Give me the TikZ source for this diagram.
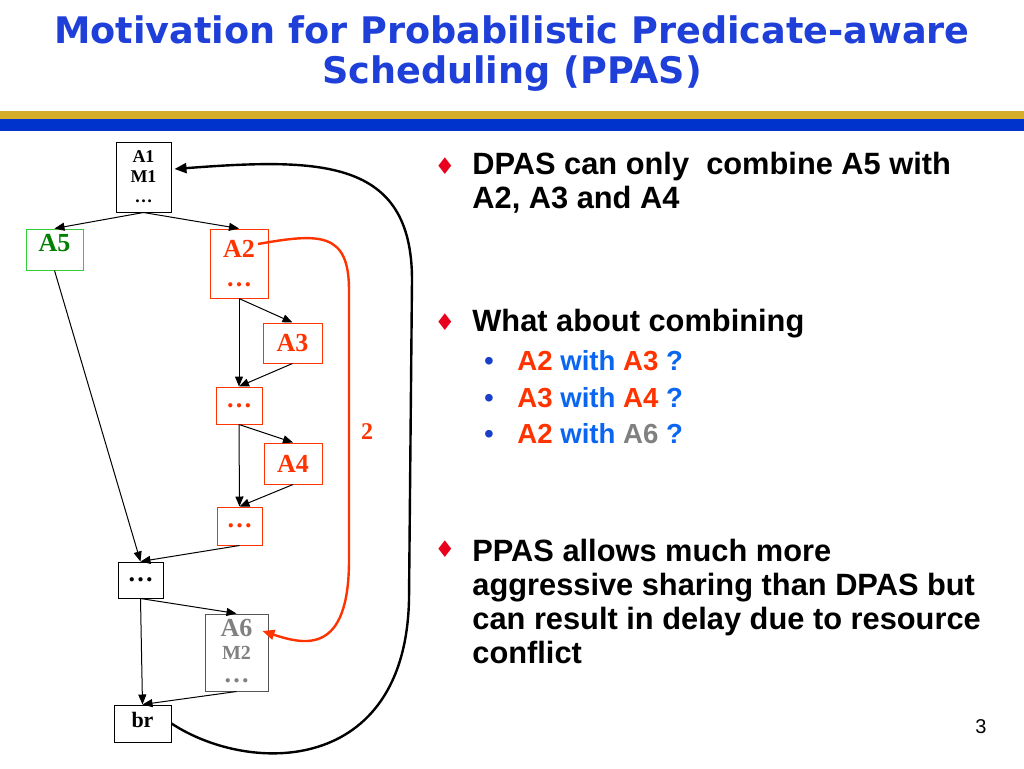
\documentclass[tikz,border=0pt]{standalone}
\usepackage{fontspec}
\setmainfont{Liberation Serif}
\newfontfamily\arial{Liberation Sans}
\newfontfamily\titlefont{DejaVu Sans}
\newfontfamily\symfont{DejaVu Sans}
\usepackage{xcolor}
\usepackage{tikz}
\usetikzlibrary{arrows.meta, positioning, calc}

\definecolor{titleblue}{HTML}{1E3FD8}
\definecolor{bargold}{HTML}{D4AE2A}
\definecolor{barblue}{HTML}{0033CC}
\definecolor{ppred}{HTML}{FF3300}
\definecolor{ppgreen}{HTML}{008000}
\definecolor{boxgreen}{HTML}{33CC33}
\definecolor{withblue}{HTML}{0A66F0}
\definecolor{dotblue}{HTML}{1A3FC8}
\definecolor{diamred}{HTML}{E8001C}
\definecolor{a6gray}{HTML}{808080}
\definecolor{a6edge}{HTML}{555555}

\begin{document}
\begin{tikzpicture}[
    x=0.5pt, y=-0.5pt,
    box/.style={draw, line width=0.5pt, inner sep=0pt, align=center, font=\bfseries\fontsize{13}{17.5}\selectfont},
    redbox/.style={box, draw=ppred, text=ppred},
    flow/.style={-{Triangle[length=5pt,width=4pt]}, line width=0.5pt},
    backedge/.style={-{Triangle[length=6pt,width=5pt]}, line width=1.2pt},
    redpath/.style={-{Triangle[length=6pt,width=5pt]}, line width=1.2pt, draw=ppred},
    txt/.style={font=\arial\bfseries\fontsize{15.4}{17}\selectfont, align=left, inner sep=0pt},
    subtxt/.style={font=\arial\bfseries\fontsize{13.8}{15}\selectfont, inner sep=0pt},
    diam/.style={font=\symfont\fontsize{11.5}{11.5}\selectfont, text=diamred, inner sep=0pt},
    subdot/.style={font=\arial\fontsize{14}{14}\selectfont, text=dotblue, inner sep=0pt, anchor=base}
]
    \useasboundingbox (0,0) rectangle (1024,768);

    % title and bars
    \node[font=\titlefont\bfseries\fontsize{18.3}{20}\selectfont, text=titleblue, align=center] (title) at (512,54)
        {Motivation for Probabilistic Predicate-aware\\Scheduling (PPAS)};
    \fill[bargold] (0,111) rectangle (1024,119);
    \fill[barblue] (0,119) rectangle (1024,131);

    % blocks
    \node[box, minimum width=27.5pt, minimum height=35pt, font=\bfseries\fontsize{9}{10}\selectfont] (a1) at (143.5,177) {A1\\M1\\…};
    \node[box, draw=boxgreen, text=ppgreen, minimum width=28.5pt, minimum height=20.5pt, text depth=7pt] (a5) at (54.5,249.5) {A5};
    \node[redbox, minimum width=29pt, minimum height=34.5pt] (a2) at (239,263.5) {A2\\[-3pt]…};
    \node[redbox, minimum width=29.5pt, minimum height=20pt] (a3) at (292.5,343) {A3};
    \node[redbox, minimum width=23pt, minimum height=18.5pt] (dots1) at (239,405.5) {…};
    \node[redbox, minimum width=29pt, minimum height=20.5pt] (a4) at (293,463.5) {A4};
    \node[redbox, minimum width=22.5pt, minimum height=19pt] (dots2) at (239.5,526) {…};
    \node[box, minimum width=22.5pt, minimum height=18pt] (dots3) at (140.5,580) {…};
    \node[box, draw=a6edge, text=a6gray, minimum width=31.5pt, minimum height=38.5pt, text depth=2pt] (a6) at (236.5,652.5)
        {A6\\[-6pt]{\fontsize{10}{11}\selectfont M2}\\[-6pt]…};
    \node[box, minimum width=28.5pt, minimum height=18.5pt, text depth=4pt, font=\bfseries\fontsize{11}{12}\selectfont] (br) at (142.5,723.5) {br};

    % flow edges
    \draw[flow] (a1.south) -- (a5.north);
    \draw[flow] (a1.south) -- (a2.north);
    \draw[flow] (a5.south) -- (dots3.north);
    \draw[flow] (a2.south) -- (dots1.north);
    \draw[flow] (a2.south) -- (a3.north);
    \draw[flow] (a3.south) -- (dots1.north);
    \draw[flow] (dots1.south) -- (dots2.north);
    \draw[flow] (dots1.south) -- (a4.north);
    \draw[flow] (a4.south) -- (dots2.north);
    \draw[flow] (dots2.south) -- (dots3.north);
    \draw[flow] (dots3.south) -- (br.north);
    \draw[flow] (dots3.south) -- (a6.north);
    \draw[flow] (a6.south) -- (br.north);

    % back edge
    \coordinate (loopend) at ($(a1.east)+(3,-8)$);
    \draw[backedge] (br.east) .. controls (250,775) and (405,775) .. (409,600)
        -- (412,280) .. controls (412,158) and (320,158) .. (loopend);

    % red path
    \coordinate (redstart) at ($(a2.center)+(19,-19.5)$);
    \coordinate (redend) at ($(a6.east)+(-6,-21.5)$);
    \draw[redpath] (redstart) .. controls (320,233) and (349,232) .. (349,290)
        -- (349,560) .. controls (349,655) and (305,645) .. (redend);
    \node[text=ppred, font=\bfseries\fontsize{12}{12}\selectfont] (two) at (367,432) {2};

    % bullets
    \node[diam] (d1) at (445,166) {♦};
    \node[txt, anchor=base west] (b1) at (472,208) {DPAS can only~ combine A5 with\\A2, A3 and A4};
    \node[diam] (d2) at (445,322) {♦};
    \node[txt, anchor=base west] (b2) at (472,331) {What about combining};
    \node[subdot] (s1) at (489,370) {•};
    \node[subtxt, anchor=base west] (t1) at (517,370) {\textcolor{ppred}{A2} \textcolor{withblue}{with} \textcolor{ppred}{A3} \textcolor{withblue}{?}};
    \node[subdot] (s2) at (489,407) {•};
    \node[subtxt, anchor=base west] (t2) at (517,407) {\textcolor{ppred}{A3} \textcolor{withblue}{with} \textcolor{ppred}{A4} \textcolor{withblue}{?}};
    \node[subdot] (s3) at (489,443) {•};
    \node[subtxt, anchor=base west] (t3) at (517,443) {\textcolor{ppred}{A2} \textcolor{withblue}{with} \textcolor{a6gray}{A6} \textcolor{withblue}{?}};
    \node[diam] (d3) at (445,549) {♦};
    \node[txt, anchor=base west] (b3) at (472,663) {PPAS allows much more\\aggressive sharing than DPAS but\\can result in delay due to resource\\conflict};

    \node[font=\arial\fontsize{10}{10}\selectfont] (page) at (981,727) {3};
\end{tikzpicture}
\end{document}
